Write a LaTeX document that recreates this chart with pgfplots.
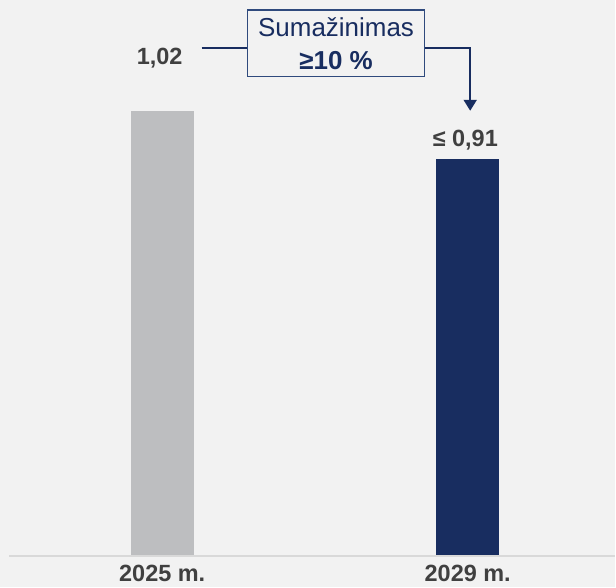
\documentclass[border=0pt]{standalone}
\usepackage{fontspec}
\setmainfont{Liberation Sans}
\usepackage{pgfplots}
\pgfplotsset{compat=1.18}
\usetikzlibrary{arrows.meta}

\definecolor{bg}{HTML}{F2F2F2}
\definecolor{barGray}{HTML}{BDBEC0}
\definecolor{navy}{HTML}{182D60}
\definecolor{boxLine}{HTML}{2F4A7D}
\definecolor{txtGray}{HTML}{404040}
\definecolor{axGray}{HTML}{D9D9D9}

\newcommand{\lbl}{\fontsize{23.5bp}{28bp}\selectfont\bfseries}

\begin{document}
\begin{tikzpicture}
\begin{axis}[
  width=616bp, height=588bp, scale only axis,
  xmin=-0.531, xmax=1.482,
  ymin=-0.0733, ymax=1.2743,
  axis lines=none, ticks=none,
  axis background/.style={fill=bg},
  clip=false,
]
  % value axis baseline
  \draw[axGray, line width=2bp] (axis cs:-0.5,-0.002) -- (axis cs:1.482,-0.002);

  \addplot[ybar, bar width=63bp, fill=barGray, draw=none] coordinates {(0,1.02)};
  \addplot[ybar, bar width=63bp, fill=navy, draw=none] coordinates {(1,0.91)};

  % value labels
  \node[anchor=base east, inner sep=0, text=txtGray, font=\lbl] at (axis cs:0.067,1.1265) {1,02};
  \node[anchor=base, inner sep=0, text=txtGray, font=\lbl] at (axis cs:0.992,0.9386) {≤ 0,91};

  % category labels
  \node[anchor=base, inner sep=0, text=txtGray, font=\lbl] at (axis cs:0,-0.0596) {2025 m.};
  \node[anchor=base, inner sep=0, text=txtGray, font=\lbl] at (axis cs:1,-0.0596) {2029 m.};

  % annotation
  \draw[navy, line width=2bp] (axis cs:0.129,1.164) -- (axis cs:0.279,1.164);
  \draw[navy, line width=2bp, -{Triangle[width=13bp,length=11bp]}]
    (axis cs:0.858,1.164) -- (axis cs:1.008,1.164) -- (axis cs:1.008,1.020);
  \draw[boxLine, line width=1.3bp, fill=bg] (axis cs:0.279,1.098) rectangle (axis cs:0.858,1.251);
  \node[anchor=base, inner sep=0, text=navy, font=\fontsize{26bp}{30bp}\selectfont] at (axis cs:0.569,1.1896) {Sumažinimas};
  \node[anchor=base, inner sep=0, text=navy, font=\fontsize{26bp}{30bp}\selectfont\bfseries] at (axis cs:0.569,1.114) {≥10 \%};
\end{axis}
\end{tikzpicture}
\end{document}
